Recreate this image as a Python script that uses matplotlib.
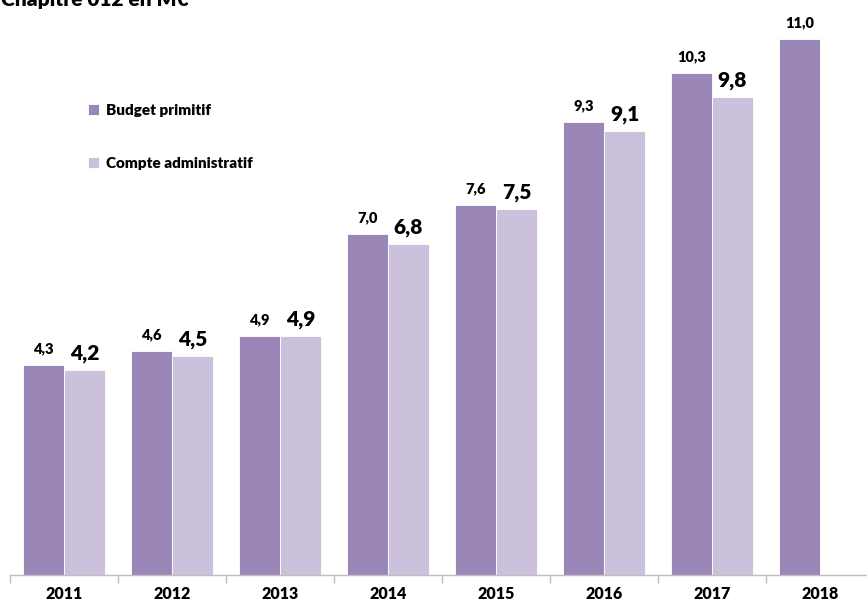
import numpy as np
import matplotlib
matplotlib.use('Agg')
import matplotlib.pyplot as plt

plt.rcParams['font.family'] = ['Lato', 'DejaVu Sans']

years = ['2011', '2012', '2013', '2014', '2015', '2016', '2017', '2018']
budget_primitif = [4.3, 4.6, 4.9, 7.0, 7.6, 9.3, 10.3, 11.0]
compte_admin = [4.2, 4.5, 4.9, 6.8, 7.5, 9.1, 9.8, np.nan]
bp_labels = ['4,3', '4,6', '4,9', '7,0', '7,6', '9,3', '10,3', '11,0']
ca_labels = ['4,2', '4,5', '4,9', '6,8', '7,5', '9,1', '9,8', '']

c_bp = '#9b87b7'
c_ca = '#cbc1dc'

W, H = 867, 605
fig = plt.figure(figsize=(W / 100, H / 100), dpi=100)
ax = fig.add_axes([10 / W, 30 / H, 864 / W, 575 / H])

x = np.arange(len(years))
bw = 0.38
ax.bar(x - bw / 2, budget_primitif, bw, color=c_bp, edgecolor='white', linewidth=0.6, label='Budget primitif')
ax.bar(x + bw / 2, compte_admin, bw, color=c_ca, edgecolor='white', linewidth=0.6, label='Compte administratif')

for i in range(len(years)):
    ax.annotate(bp_labels[i], (x[i] - bw / 2, budget_primitif[i]), xytext=(0, 7),
                textcoords='offset points', ha='center', va='bottom',
                fontsize=10.5, fontweight='heavy')
    if ca_labels[i]:
        ax.annotate(ca_labels[i], (x[i] + bw / 2, compte_admin[i]), xytext=(0, 5),
                    textcoords='offset points', ha='center', va='bottom',
                    fontsize=15, fontweight='heavy')

ax.set_xlim(-0.5, 7.5)
ax.set_ylim(0, 575 / 48.75)

for s in ['top', 'right', 'left']:
    ax.spines[s].set_visible(False)
ax.spines['bottom'].set_color('#bfbfbf')
ax.spines['bottom'].set_linewidth(1)
ax.set_yticks([])
ax.set_xticks(np.arange(-0.5, 8, 1))
ax.set_xticklabels([])
ax.set_xticks(x, minor=True)
ax.set_xticklabels(years, minor=True, fontsize=11.5, fontweight='heavy')
ax.tick_params(axis='x', which='major', length=6, color='#bfbfbf', width=1)
ax.tick_params(axis='x', which='minor', length=0, pad=8)

leg = ax.legend(loc='upper left', bbox_to_anchor=(72 / 864, 1 - 98 / 575),
                frameon=False, handlelength=0.7, handleheight=0.7,
                handletextpad=0.5, labelspacing=2.6, borderaxespad=0,
                prop={'weight': 'heavy', 'size': 11})

fig.text(1 / W, 1 - 6 / H, 'Chapitre 012 en M€', ha='left', va='baseline',
         fontsize=15, fontweight='heavy')

fig.savefig('out.png', dpi=100)
